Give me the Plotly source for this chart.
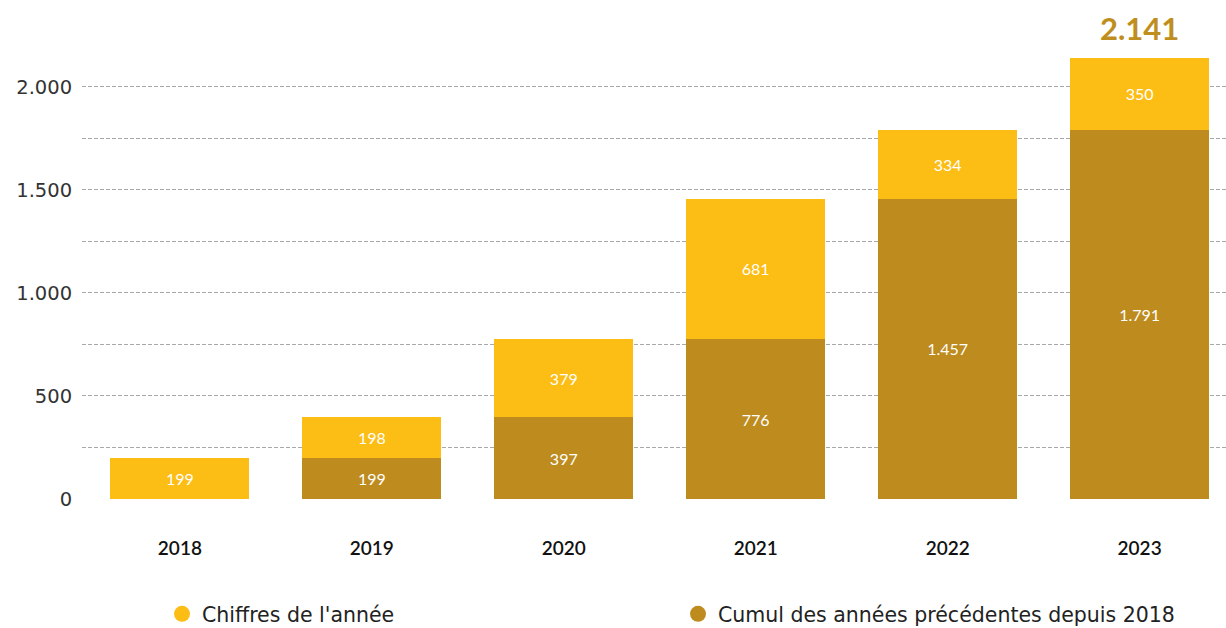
import plotly.graph_objects as go

years = ["2018", "2019", "2020", "2021", "2022", "2023"]
cumul = [0, 199, 397, 776, 1457, 1791]
annee = [199, 198, 379, 681, 334, 350]
total_label = "2.141"
y_ticks = [0, 250, 500, 750, 1000, 1250, 1500, 1750, 2000]
y_ticktext = ["0", "", "500", "", "1.000", "", "1.500", "", "2.000"]

YELLOW = "#FCBD14"
GOLD = "#BD8B1E"
FONT = "Lato"
WIDE = "DejaVu Sans"

def fmt(v):
    return "" if v == 0 else f"{v:,}".replace(",", ".")

fig = go.Figure()
fig.add_trace(go.Bar(x=years, y=cumul, marker_color=GOLD, width=0.724,
                     marker_line_width=0,
                     text=[fmt(v) for v in cumul], textposition="inside",
                     insidetextanchor="middle",
                     textfont=dict(color="white", size=16, family=FONT),
                     showlegend=False, hoverinfo="skip"))
fig.add_trace(go.Bar(x=years, y=annee, marker_color=YELLOW, width=0.724,
                     marker_line_width=0,
                     text=[fmt(v) for v in annee], textposition="inside",
                     insidetextanchor="middle",
                     textfont=dict(color="white", size=16, family=FONT),
                     showlegend=False, hoverinfo="skip"))
# legend entries
fig.add_trace(go.Scatter(x=[None], y=[None], mode="markers", name="Chiffres de l'année",
                         marker=dict(color=YELLOW, size=22, symbol="circle")))
fig.add_trace(go.Scatter(x=[None], y=[None], mode="markers", name="Cumul des années précédentes depuis 2018",
                         marker=dict(color=GOLD, size=22, symbol="circle")))

total = cumul[-1] + annee[-1]
fig.add_annotation(x=len(years) - 1, y=total, text="<b>" + total_label + "</b>", showarrow=False,
                   xref="x", yref="y", yanchor="bottom", yshift=9,
                   font=dict(size=31, color="#BF8E1E", family=FONT))

fig.update_layout(
    width=1226, height=628,
    margin=dict(l=82, r=0, t=40, b=129, autoexpand=False),
    barmode="stack",
    plot_bgcolor="white", paper_bgcolor="white",
    separators=",.",
    font=dict(family=FONT, color="#222"),
    xaxis=dict(type="category", range=[-0.51, 5.45], showgrid=False, showline=False,
               ticks="outside", ticklen=32, tickcolor="rgba(0,0,0,0)",
               tickfont=dict(size=19, color="#111", family=FONT, weight=600)),
    yaxis=dict(range=[0, 2228], tickvals=y_ticks, ticktext=y_ticktext,
               showgrid=True, gridcolor="#a8a8a8", griddash="4px,2px", gridwidth=1,
               zeroline=False, showline=False,
               ticks="outside", ticklen=5, tickcolor="rgba(0,0,0,0)",
               tickfont=dict(size=19.5, color="#333", family=WIDE)),
    legend=dict(orientation="h", xref="container", yref="container",
                x=162 / 1226, y=(628 - 614) / 628, xanchor="left", yanchor="middle",
                entrywidth=471, entrywidthmode="pixels", traceorder="normal",
                font=dict(size=20.5, color="#222", family=WIDE), itemsizing="trace"),
)

fig.write_html("out.html", config={"displayModeBar": False},
               post_script=["document.body.style.margin='0';document.body.style.overflow='hidden';"])
